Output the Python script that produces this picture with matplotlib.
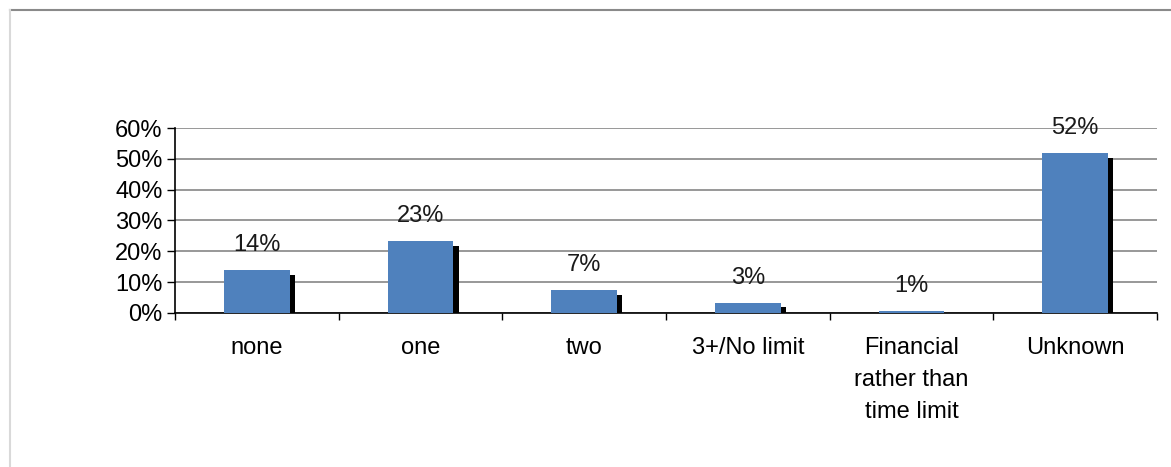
import matplotlib
matplotlib.use("Agg")
import matplotlib.pyplot as plt
from matplotlib.lines import Line2D
import numpy as np

# ── data ────────────────────────────────────────────────────────────────
categories = ["none", "one", "two", "3+/No limit",
              "Financial\nrather than\ntime limit", "Unknown"]
shares = [0.14, 0.233, 0.074, 0.034, 0.006, 0.519]

BAR_COLOR = "#4F81BD"
GRID_COLOR = "#868686"

plt.rcParams["font.family"] = ["Liberation Sans", "DejaVu Sans"]
FS = 17

fig = plt.figure(figsize=(11.71, 4.67), dpi=100, facecolor="white")
ax = fig.add_axes([0.1494, 0.3298, 0.988 - 0.1494, 0.7259 - 0.3298])

x = np.arange(len(categories))
width = 0.40

# drop shadow behind each bar (shifted right and down)
dx, dy = 0.034, 0.016
shadow_h = [max(v - dy, 0) for v in shares]
ax.bar(x + dx, shadow_h, width=width, color="black", zorder=2, linewidth=0)
ax.bar(x, shares, width=width, color=BAR_COLOR, zorder=3, linewidth=0)

for xi, v in zip(x, shares):
    ax.annotate(f"{v:.0%}", xy=(xi, v), xytext=(0, 18),
                textcoords="offset points", ha="center", va="center",
                fontsize=FS, color="#1a1a1a", zorder=4)

# axes limits and grid
ax.set_xlim(-0.5, len(categories) - 0.5)
ax.set_ylim(0, 0.6)
ax.set_yticks(np.arange(0, 0.61, 0.1))
ax.set_yticklabels([f"{int(round(t * 100))}%" for t in np.arange(0, 0.61, 0.1)])
ax.yaxis.grid(True, color=GRID_COLOR, linewidth=1.2, zorder=1)
ax.set_axisbelow(True)

ax.set_xticks(x)
ax.set_xticklabels(categories, linespacing=1.6)
ax.set_xticks(np.arange(-0.5, len(categories) + 0.5, 1.0), minor=True)
ax.tick_params(axis="x", which="major", length=0, pad=17, labelsize=FS)
ax.tick_params(axis="x", which="minor", length=5, direction="out",
               width=1, color="black")
ax.tick_params(axis="y", length=6, width=1, direction="out", labelsize=FS,
               pad=3)

for side in ("top", "right"):
    ax.spines[side].set_visible(False)
for side in ("left", "bottom"):
    ax.spines[side].set_color("black")
    ax.spines[side].set_linewidth(1.2)

# outer chart frame edges
fig.add_artist(Line2D([10 / 1171, 1.0], [1 - 9.5 / 467, 1 - 9.5 / 467],
                      transform=fig.transFigure, color="#8a8a8a", lw=1.5))
fig.add_artist(Line2D([10 / 1171, 10 / 1171], [0, 1 - 9.5 / 467],
                      transform=fig.transFigure, color="#d9d9d9", lw=1.5))

fig.savefig("out.png", dpi=100, facecolor="white")
